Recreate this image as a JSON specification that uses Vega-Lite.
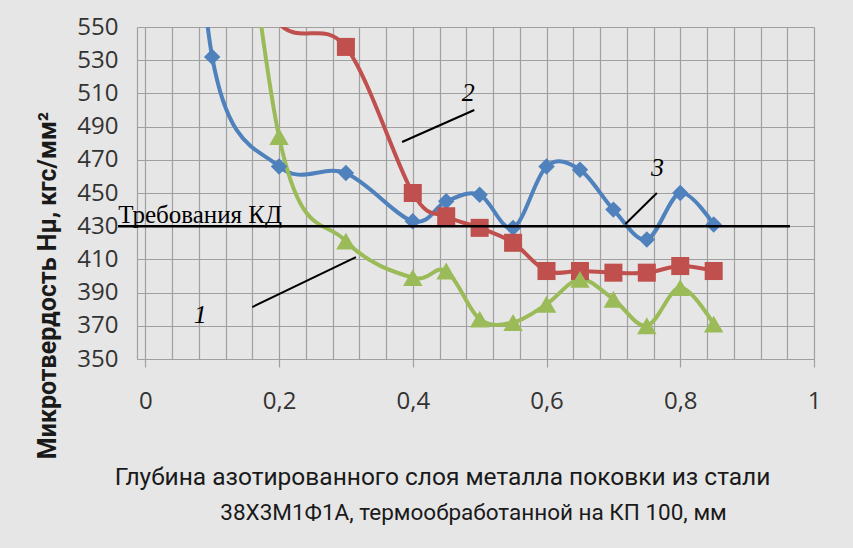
{
  "$schema": "https://vega.github.io/schema/vega-lite/v6.json",
  "width": 677,
  "height": 332,
  "autosize": {"type": "none"},
  "padding": {"left": 137, "top": 27, "right": 39, "bottom": 189},
  "background": "#e6e6e6",
  "title": {
    "text": "38Х3М1Ф1А, термообработанной на КП 100, мм",
    "orient": "bottom", "anchor": "middle", "frame": "group",
    "font": "Roboto", "fontSize": 22.5, "fontWeight": "normal", "color": "#1a1a1a",
    "baseline": "top", "offset": 13, "dx": -2
  },
  "config": {"view": {"stroke": null}, "axis": {"labelOverlap": false}},
  "datasets": {
    "series": [
      {"curve": "3", "depth": 0.05, "hv": 800},
      {"curve": "3", "depth": 0.1, "hv": 532},
      {"curve": "3", "depth": 0.2, "hv": 466},
      {"curve": "3", "depth": 0.3, "hv": 462},
      {"curve": "3", "depth": 0.4, "hv": 433},
      {"curve": "3", "depth": 0.45, "hv": 445},
      {"curve": "3", "depth": 0.5, "hv": 449},
      {"curve": "3", "depth": 0.55, "hv": 429},
      {"curve": "3", "depth": 0.6, "hv": 466},
      {"curve": "3", "depth": 0.65, "hv": 464},
      {"curve": "3", "depth": 0.7, "hv": 440},
      {"curve": "3", "depth": 0.75, "hv": 422},
      {"curve": "3", "depth": 0.8, "hv": 450},
      {"curve": "3", "depth": 0.85, "hv": 431},
      {"curve": "2", "depth": 0.1, "hv": 620},
      {"curve": "2", "depth": 0.2, "hv": 552},
      {"curve": "2", "depth": 0.3, "hv": 538},
      {"curve": "2", "depth": 0.4, "hv": 450},
      {"curve": "2", "depth": 0.45, "hv": 436},
      {"curve": "2", "depth": 0.5, "hv": 429},
      {"curve": "2", "depth": 0.55, "hv": 420},
      {"curve": "2", "depth": 0.6, "hv": 403},
      {"curve": "2", "depth": 0.65, "hv": 403},
      {"curve": "2", "depth": 0.7, "hv": 402},
      {"curve": "2", "depth": 0.75, "hv": 402},
      {"curve": "2", "depth": 0.8, "hv": 406},
      {"curve": "2", "depth": 0.85, "hv": 403},
      {"curve": "1", "depth": 0.1, "hv": 800},
      {"curve": "1", "depth": 0.2, "hv": 484},
      {"curve": "1", "depth": 0.3, "hv": 421},
      {"curve": "1", "depth": 0.4, "hv": 399},
      {"curve": "1", "depth": 0.45, "hv": 403},
      {"curve": "1", "depth": 0.5, "hv": 374},
      {"curve": "1", "depth": 0.55, "hv": 372},
      {"curve": "1", "depth": 0.6, "hv": 383},
      {"curve": "1", "depth": 0.65, "hv": 398},
      {"curve": "1", "depth": 0.7, "hv": 386},
      {"curve": "1", "depth": 0.75, "hv": 370},
      {"curve": "1", "depth": 0.8, "hv": 393},
      {"curve": "1", "depth": 0.85, "hv": 371}
    ],
    "leaders": [
      {"x": 0.160, "y": 381.3, "x2": 0.315, "y2": 411.4},
      {"x": 0.384, "y": 480.7, "x2": 0.492, "y2": 500},
      {"x": 0.718, "y": 431.3, "x2": 0.765, "y2": 450}
    ],
    "kd": [
      {"x": -0.0408, "x2": 0.964, "y": 430, "label": "Требования КД", "lx": 0.082, "ly": 431.8}
    ],
    "labels": [
      {"x": 0.082, "y": 376.5, "text": "1"},
      {"x": 0.483, "y": 510.2, "text": "2"},
      {"x": 0.766, "y": 465, "text": "3"}
    ]
  },
  "layer": [
    {
      "data": {"name": "series"},
      "mark": {"type": "line", "interpolate": "cardinal", "tension": 0, "strokeWidth": 4, "clip": true},
      "encoding": {
        "x": {
          "field": "depth", "type": "quantitative",
          "scale": {"domain": [-0.0124, 1], "nice": false, "zero": false},
          "axis": {
            "values": [0, 0.04, 0.08, 0.12, 0.16, 0.2, 0.24, 0.28, 0.32, 0.36, 0.4, 0.44, 0.48, 0.52, 0.56, 0.6, 0.64, 0.68, 0.72, 0.76, 0.8, 0.84, 0.88, 0.92, 0.96, 1],
            "tickCount": 40,
            "grid": true, "gridColor": "#a0a0a0", "gridWidth": 1.2,
            "domainColor": "#a0a0a0", "domainWidth": 1.2,
            "tickColor": "#a0a0a0", "tickWidth": 1.2, "tickSize": 8,
            "tickOpacity": {"condition": {"test": "abs(datum.value*5 - round(datum.value*5)) < 0.001", "value": 1}, "value": 0},
            "labelExpr": "abs(datum.value*5 - round(datum.value*5)) < 0.001 ? replace(toString(round(datum.value*5)/5), '.', ',') : ''",
            "labelFont": "Open Sans", "labelFontSize": 24, "labelColor": "#333333",
            "labelPadding": 22, "labelOverlap": false, "labelFlush": false,
            "title": "Глубина азотированного  слоя металла   поковки из стали",
            "titleX": 305, "titleY": 125, "titleAlign": "center", "titleBaseline": "alphabetic",
            "titleFont": "Roboto", "titleFontSize": 24.5, "titleFontWeight": "normal",
            "titleColor": "#1a1a1a"
          }
        },
        "y": {
          "field": "hv", "type": "quantitative",
          "scale": {"domain": [350, 550], "nice": false, "zero": false},
          "axis": {
            "values": [350, 370, 390, 410, 430, 450, 470, 490, 510, 530, 550],
            "tickCount": 30,
            "grid": true, "gridColor": "#a0a0a0", "gridWidth": 1.2,
            "domainColor": "#a0a0a0", "domainWidth": 1.2,
            "ticks": false, "labelPadding": 19, "labelOverlap": false,
            "labelFont": "Open Sans", "labelFontSize": 24, "labelColor": "#333333",
            "title": "Микротвердость Нμ, кгс/мм²",
            "titleX": -90, "titleY": 258, "titleAngle": -90, "titleAlign": "center", "titleBaseline": "middle",
            "titleFont": "Roboto", "titleFontSize": 25, "titleFontWeight": "bold", "titleColor": "#1a1a1a"
          }
        },
        "color": {"field": "curve", "type": "nominal", "scale": {"domain": ["3", "2", "1"], "range": ["#4f81bd", "#c0504d", "#9bbb59"]}, "legend": null}
      }
    },
    {
      "data": {"name": "series"},
      "transform": [{"filter": "datum.hv <= 550"}],
      "mark": {"type": "point", "filled": true, "opacity": 1, "clip": true},
      "encoding": {
        "x": {"field": "depth", "type": "quantitative"},
        "y": {"field": "hv", "type": "quantitative"},
        "color": {"field": "curve", "type": "nominal", "legend": null},
        "shape": {"field": "curve", "type": "nominal", "scale": {"domain": ["3", "2", "1"], "range": ["diamond", "square", "triangle-up"]}, "legend": null},
        "size": {"field": "curve", "type": "nominal", "scale": {"domain": ["3", "2", "1"], "range": [270, 380, 420]}, "legend": null}
      }
    },
    {
      "data": {"name": "kd"},
      "mark": {"type": "rule", "color": "#000000", "strokeWidth": 2.5},
      "encoding": {
        "x": {"field": "x", "type": "quantitative"},
        "x2": {"field": "x2"},
        "y": {"field": "y", "type": "quantitative"}
      }
    },
    {
      "data": {"name": "kd"},
      "mark": {"type": "text", "font": "Liberation Serif", "fontSize": 25, "align": "center", "baseline": "alphabetic", "color": "#000000"},
      "encoding": {
        "x": {"field": "lx", "type": "quantitative"},
        "y": {"field": "ly", "type": "quantitative"},
        "text": {"field": "label"}
      }
    },
    {
      "data": {"name": "leaders"},
      "mark": {"type": "rule", "color": "#000000", "strokeWidth": 2},
      "encoding": {
        "x": {"field": "x", "type": "quantitative"},
        "y": {"field": "y", "type": "quantitative"},
        "x2": {"field": "x2"},
        "y2": {"field": "y2"}
      }
    },
    {
      "data": {"name": "labels"},
      "mark": {"type": "text", "font": "Liberation Serif", "fontSize": 26, "fontStyle": "italic", "align": "center", "baseline": "middle", "color": "#000000"},
      "encoding": {
        "x": {"field": "x", "type": "quantitative"},
        "y": {"field": "y", "type": "quantitative"},
        "text": {"field": "text"}
      }
    }
  ]
}
